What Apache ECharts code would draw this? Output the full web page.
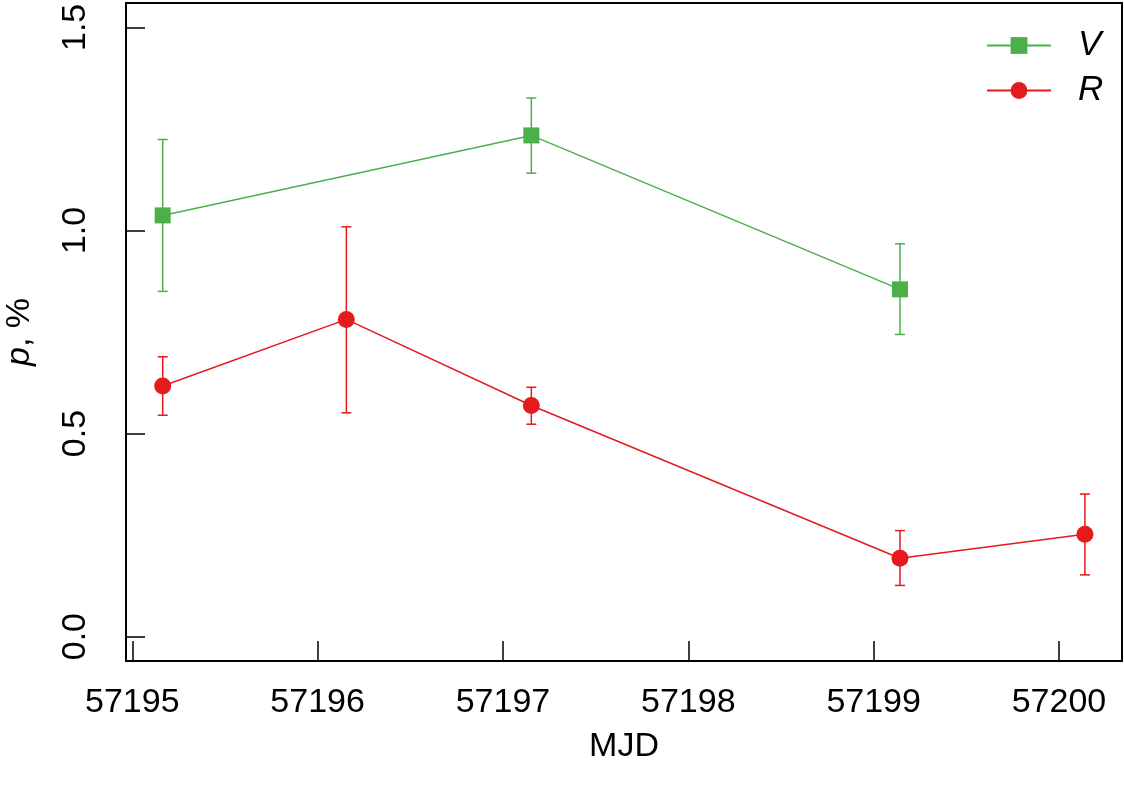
<!DOCTYPE html>
<html>
<head>
<meta charset="utf-8">
<script src="https://cdn.jsdelivr.net/npm/echarts@6/dist/echarts.min.js"></script>
<style>
html, body { margin: 0; padding: 0; background: #fff; }
#chart { width: 1125px; height: 788px; }
</style>
</head>
<body>
<div id="chart"></div>
<script>
// V band
const mjdV = [57195.164, 57197.153, 57199.142];
const pV = [1.037, 1.234, 0.855];
const pVLow = [0.850, 1.141, 0.744];
const pVHigh = [1.224, 1.326, 0.967];

// R band
const mjdR = [57195.164, 57196.155, 57197.153, 57199.142, 57200.140];
const pR = [0.617, 0.781, 0.569, 0.193, 0.252];
const pRLow = [0.545, 0.551, 0.523, 0.126, 0.152];
const pRHigh = [0.689, 1.009, 0.614, 0.261, 0.351];

const xTicks = [57195, 57196, 57197, 57198, 57199, 57200];
const yTicks = [0, 0.5, 1, 1.5];

const green = '#4DAF4A';
const red = '#E41A1C';
const font = 'Liberation Sans, Arial, Helvetica, sans-serif';

function errorBars(params, api) {
    const x = api.value(0);
    const top = api.coord([x, api.value(2)]);
    const bot = api.coord([x, api.value(1)]);
    const cap = 5;
    const style = { stroke: api.visual('color'), lineWidth: 1.5 };
    return {
        type: 'group',
        children: [
            { type: 'line', shape: { x1: top[0], y1: top[1], x2: bot[0], y2: bot[1] }, style },
            { type: 'line', shape: { x1: top[0] - cap, y1: top[1], x2: top[0] + cap, y2: top[1] }, style },
            { type: 'line', shape: { x1: bot[0] - cap, y1: bot[1], x2: bot[0] + cap, y2: bot[1] }, style },
        ],
    };
}

const options = {
    animation: false,
    grid: {
        left: 126,
        right: 3,
        top: 3,
        bottom: 127,
        outerBoundsMode: 'none',
        containLabel: false,
        show: true,
        borderColor: '#000',
        borderWidth: 2,
    },
    legend: {
        data: ['V', 'R'],
        orient: 'vertical',
        left: 981,
        top: 23,
        itemWidth: 64,
        itemHeight: 21,
        itemGap: 10,
        textStyle: {
            fontFamily: font,
            fontSize: 35,
            fontStyle: 'italic',
            color: '#000',
            lineHeight: 33,
            padding: [0, 0, 0, 22],
        },
    },
    xAxis: {
        type: 'value',
        min: 57194.966,
        max: 57200.34,
        name: 'MJD',
        nameLocation: 'middle',
        nameGap: 69,
        nameTextStyle: { fontFamily: font, fontSize: 34, color: '#000' },
        axisLine: { show: false, onZero: false },
        splitLine: { show: false },
        axisTick: {
            inside: true,
            length: 20,
            customValues: xTicks,
            lineStyle: { color: '#000', width: 1.5 },
        },
        axisLabel: {
            customValues: xTicks,
            margin: 25,
            fontFamily: font,
            fontSize: 34,
            color: '#000',
            formatter: v => String(v),
        },
    },
    yAxis: {
        type: 'value',
        min: -0.06,
        max: 1.56,
        name: '{i|p}, %',
        nameLocation: 'middle',
        nameGap: 89,
        nameTextStyle: {
            fontFamily: font,
            fontSize: 34,
            color: '#000',
            rich: { i: { fontFamily: font, fontSize: 34, fontStyle: 'italic', color: '#000' } },
        },
        axisLine: { show: false, onZero: false },
        splitLine: { show: false },
        axisTick: {
            inside: true,
            length: 19,
            customValues: yTicks,
            lineStyle: { color: '#000', width: 1.5 },
        },
        axisLabel: {
            customValues: yTicks,
            rotate: 90,
            margin: 33,
            fontFamily: font,
            fontSize: 34,
            color: '#000',
            formatter: v => v.toFixed(1),
        },
    },
    series: [
        {
            name: 'V err',
            type: 'custom',
            renderItem: errorBars,
            itemStyle: { color: green },
            data: mjdV.map((x, i) => [x, pVLow[i], pVHigh[i]]),
            z: 1,
        },
        {
            name: 'R err',
            type: 'custom',
            renderItem: errorBars,
            itemStyle: { color: red },
            data: mjdR.map((x, i) => [x, pRLow[i], pRHigh[i]]),
            z: 1,
        },
        {
            name: 'V',
            type: 'line',
            symbol: 'rect',
            symbolSize: 16,
            color: green,
            itemStyle: { color: green },
            lineStyle: { color: green, width: 1.5 },
            data: mjdV.map((x, i) => [x, pV[i]]),
            z: 3,
        },
        {
            name: 'R',
            type: 'line',
            symbol: 'circle',
            symbolSize: 17,
            color: red,
            itemStyle: { color: red },
            lineStyle: { color: red, width: 1.5 },
            data: mjdR.map((x, i) => [x, pR[i]]),
            z: 3,
        },
    ],
};

const chart = echarts.init(document.getElementById('chart'));
chart.setOption(options);
</script>
</body>
</html>
